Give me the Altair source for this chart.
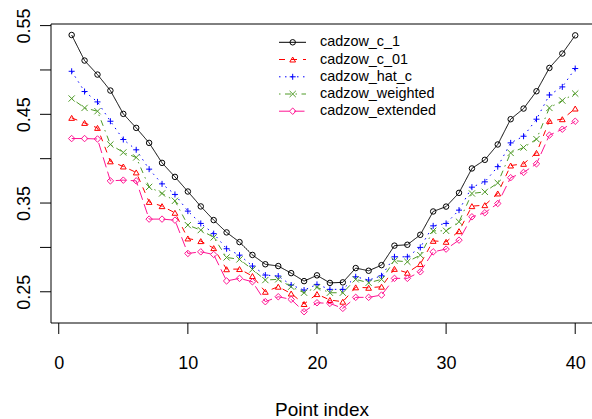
import altair as alt
import pandas as pd

# ---- data ----
point_index = list(range(1, 41))
series_names = ["cadzow_c_1", "cadzow_c_01", "cadzow_hat_c", "cadzow_weighted", "cadzow_extended"]

cadzow_c_1 = [0.5394, 0.5106, 0.4948, 0.4768, 0.4505, 0.4347, 0.4178, 0.3953, 0.3795, 0.3630,
              0.3462, 0.3308, 0.3169, 0.3060, 0.2915, 0.2810, 0.2790, 0.2710, 0.2620, 0.2685,
              0.2600, 0.2606, 0.2767, 0.2737, 0.2800, 0.3020, 0.3030, 0.3142, 0.3405, 0.3460,
              0.3615, 0.3890, 0.3987, 0.4160, 0.4445, 0.4565, 0.4760, 0.5023, 0.5185, 0.5390]
cadzow_c_01 = [0.4460, 0.4403, 0.4347, 0.3970, 0.3912, 0.3845, 0.3513, 0.3465, 0.3390, 0.3101,
               0.3071, 0.2992, 0.2754, 0.2756, 0.2677, 0.2500, 0.2557, 0.2480, 0.2362, 0.2474,
               0.2407, 0.2388, 0.2550, 0.2545, 0.2557, 0.2758, 0.2714, 0.2812, 0.3074, 0.3063,
               0.3183, 0.3465, 0.3476, 0.3608, 0.3923, 0.3942, 0.4065, 0.4426, 0.4445, 0.4565]
cadzow_hat_c = [0.4985, 0.4757, 0.4640, 0.4422, 0.4216, 0.4100, 0.3882, 0.3716, 0.3597, 0.3409,
                0.3270, 0.3155, 0.2985, 0.2913, 0.2790, 0.2688, 0.2677, 0.2576, 0.2519, 0.2583,
                0.2527, 0.2527, 0.2669, 0.2632, 0.2680, 0.2894, 0.2894, 0.3000, 0.3243, 0.3270,
                0.3420, 0.3679, 0.3739, 0.3910, 0.4178, 0.4253, 0.4445, 0.4718, 0.4809, 0.5016]
cadzow_weighted = [0.4678, 0.4572, 0.4535, 0.4160, 0.4070, 0.4014, 0.3682, 0.3608, 0.3525, 0.3251,
                   0.3195, 0.3113, 0.2887, 0.2865, 0.2752, 0.2632, 0.2640, 0.2557, 0.2489, 0.2550,
                   0.2489, 0.2489, 0.2640, 0.2601, 0.2640, 0.2850, 0.2838, 0.2913, 0.3187, 0.3187,
                   0.3289, 0.3608, 0.3626, 0.3727, 0.4065, 0.4126, 0.4220, 0.4572, 0.4655, 0.4734]
cadzow_extended = [0.4227, 0.4227, 0.4222, 0.3750, 0.3758, 0.3750, 0.3319, 0.3319, 0.3307, 0.2932,
                   0.2950, 0.2920, 0.2622, 0.2651, 0.2613, 0.2388, 0.2444, 0.2414, 0.2275, 0.2376,
                   0.2369, 0.2313, 0.2437, 0.2437, 0.2463, 0.2651, 0.2651, 0.2725, 0.2950, 0.2981,
                   0.3082, 0.3345, 0.3390, 0.3495, 0.3786, 0.3845, 0.3942, 0.4265, 0.4332, 0.4422]

x_ticks = [0, 10, 20, 30, 40]
y_ticks = [0.25, 0.30, 0.35, 0.40, 0.45, 0.50, 0.55]

# ---- styling ----
colors = ["#000000", "#FF0000", "#0000FF", "#4E9A26", "#FF1493"]
dashes = [[1, 0], [6, 6], [1.5, 4.5], [1.5, 4.5, 6, 4.5], [10.5, 4.5]]
shapes = ["circle", "triangle-up", "M-1,0L1,0M0,-1L0,1", "M-1,-1L1,1M-1,1L1,-1", "diamond"]
sizes = [30, 42, 49, 36, 50]
FONT = "Liberation Sans"

W, H = 541, 299
X_DOM = [-0.6, 41.3]
Y_DOM = [0.2148, 0.5518]
TICK_PX = 11
px_x = (X_DOM[1] - X_DOM[0]) / W   # data units per pixel
px_y = (Y_DOM[1] - Y_DOM[0]) / H

all_vals = [cadzow_c_1, cadzow_c_01, cadzow_hat_c, cadzow_weighted, cadzow_extended]
rows = []
for k, (name, vals) in enumerate(zip(series_names, all_vals)):
    for i, v in zip(point_index, vals):
        rows.append({"index": i, "value": v, "series": name, "order": k})
df = pd.DataFrame(rows)

# legend layout (pixel rows inside the plot area, converted to the scales)
legend_rows_px = [18.3, 35.5, 52.8, 70.0, 87.2]
to_y = lambda px: Y_DOM[1] - px * px_y
to_x = lambda px: X_DOM[0] + px * px_x
legend_df = pd.DataFrame({
    "series": series_names,
    "ly": [to_y(p) for p in legend_rows_px],
    "lx0": to_x(228), "lx1": to_x(255), "lxp": to_x(241.7), "lxt": to_x(269),
})

# box (left / bottom / top) and tick marks, in data units; styled like the solid series
frame_series = series_names[0]
h_segs = [(X_DOM[0], X_DOM[1], Y_DOM[0]), (X_DOM[0], X_DOM[1], Y_DOM[1])]
h_segs += [(X_DOM[0] - TICK_PX * px_x, X_DOM[0], t) for t in y_ticks]
v_segs = [(X_DOM[0], Y_DOM[0], Y_DOM[1])]
v_segs += [(t, Y_DOM[0] - TICK_PX * px_y, Y_DOM[0]) for t in x_ticks]
h_df = pd.DataFrame(h_segs, columns=["hx0", "hx1", "hy"]).assign(series=frame_series)
v_df = pd.DataFrame(v_segs, columns=["vx", "vy0", "vy1"]).assign(series=frame_series)

color = alt.Color("series:N", scale=alt.Scale(domain=series_names, range=colors), legend=None)
dash = alt.StrokeDash("series:N", scale=alt.Scale(domain=series_names, range=dashes), legend=None)
shape = alt.Shape("series:N", scale=alt.Scale(domain=series_names, range=shapes), legend=None)
size = alt.Size("series:N", scale=alt.Scale(domain=series_names, range=sizes), legend=None)

x_enc = alt.X("index:Q", scale=alt.Scale(domain=X_DOM, nice=False, zero=False),
              axis=alt.Axis(values=x_ticks, format="d", title="Point index",
                            domain=True, ticks=True, domainOpacity=0, tickOpacity=0,
                            tickSize=TICK_PX, labelPadding=20, titlePadding=28))
y_enc = alt.Y("value:Q", scale=alt.Scale(domain=Y_DOM, nice=False, zero=False),
              axis=alt.Axis(values=y_ticks, title=None, domain=True, ticks=True,
                            domainOpacity=0, tickOpacity=0,
                            tickSize=TICK_PX, labelPadding=11,
                            labelAngle=270, labelAlign="center", labelBaseline="alphabetic",
                            labelExpr="round(datum.value*100) % 10 == 5 ? format(datum.value, '.2f') : ''"))

lines = alt.Chart(df).mark_line(strokeWidth=1).encode(
    x=x_enc, y=y_enc, color=color, strokeDash=dash, detail="series:N", order="index:Q")
points = alt.Chart(df).mark_point(filled=False, strokeWidth=1, opacity=1).encode(
    x="index:Q", y="value:Q", color=color, shape=shape, size=size)

frame_h = alt.Chart(h_df).mark_rule(strokeWidth=1).encode(
    x="hx0:Q", x2="hx1:Q", y="hy:Q", color=color, strokeDash=dash)
frame_v = alt.Chart(v_df).mark_rule(strokeWidth=1).encode(
    x="vx:Q", y="vy0:Q", y2="vy1:Q", color=color, strokeDash=dash)

leg_lines = alt.Chart(legend_df).mark_rule(strokeWidth=1).encode(
    x="lx0:Q", x2="lx1:Q", y="ly:Q", color=color, strokeDash=dash)
leg_points = alt.Chart(legend_df).mark_point(filled=False, strokeWidth=1, opacity=1).encode(
    x="lxp:Q", y="ly:Q", color=color, shape=shape, size=size)
leg_text = alt.Chart(legend_df).mark_text(align="left", baseline="middle", fontSize=14.4,
                                          font=FONT, color="black").encode(
    x="lxt:Q", y="ly:Q", text="series:N")

chart = alt.layer(lines, points, frame_h, frame_v, leg_lines, leg_points, leg_text).properties(
    width=W, height=H,
    autosize=alt.AutoSizeParams(type="none"),
    padding={"left": 51, "top": 24, "right": 0, "bottom": 96},
    background="white",
).configure_view(stroke=None).configure_axis(
    grid=False, labelColor="black",
    titleColor="black", labelFont=FONT, titleFont=FONT, labelFontSize=18,
    titleFontSize=19, titleFontWeight="normal",
)

chart.save("out.html", embed_options={"renderer": "svg", "actions": False})
